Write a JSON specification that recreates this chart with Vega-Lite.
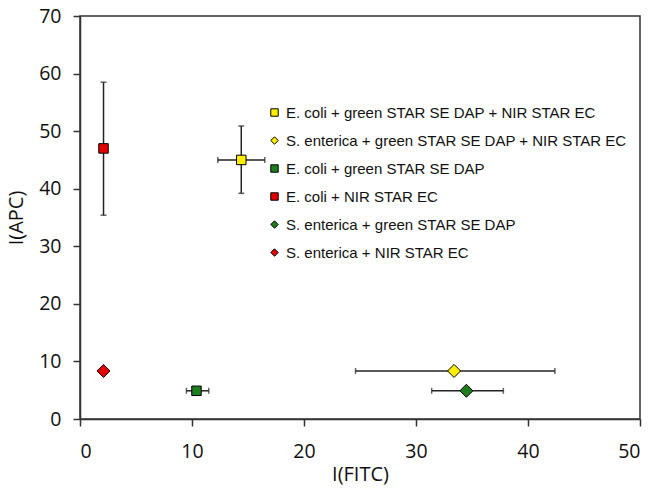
{
  "$schema": "https://vega.github.io/schema/vega-lite/v6.json",
  "width": 560,
  "height": 403,
  "autosize": "none",
  "padding": {"left": 80, "top": 16, "right": 23, "bottom": 70},
  "background": "white",
  "config": {
    "view": {"stroke": "#333", "strokeWidth": 1.5},
    "axis": {
      "grid": false,
      "domainColor": "#333",
      "domainWidth": 1.5,
      "tickColor": "#333",
      "tickWidth": 1.5,
      "tickSize": 7,
      "labelFont": "Open Sans",
      "labelFontSize": 19.5,
      "labelColor": "#111",
      "titleFont": "Open Sans",
      "titleFontSize": 20,
      "titleFontWeight": "normal",
      "titleColor": "#111"
    }
  },
  "data": {
    "values": [
      {"series": "E. coli + green STAR SE DAP + NIR STAR EC", "x": 14.4, "y": 45.0, "xlo": 12.3, "xhi": 16.5, "ylo": 39.2, "yhi": 50.9},
      {"series": "S. enterica + green STAR SE DAP + NIR STAR EC", "x": 33.4, "y": 8.35, "xlo": 24.6, "xhi": 42.4, "ylo": null, "yhi": null},
      {"series": "E. coli + green STAR SE DAP", "x": 10.4, "y": 4.9, "xlo": 9.5, "xhi": 11.5, "ylo": null, "yhi": null},
      {"series": "E. coli + NIR STAR EC", "x": 2.1, "y": 47.0, "xlo": null, "xhi": null, "ylo": 35.4, "yhi": 58.5},
      {"series": "S. enterica + green STAR SE DAP", "x": 34.5, "y": 4.9, "xlo": 31.4, "xhi": 37.8, "ylo": null, "yhi": null},
      {"series": "S. enterica + NIR STAR EC", "x": 2.1, "y": 8.35, "xlo": null, "xhi": null, "ylo": null, "yhi": null}
    ]
  },
  "encoding": {
    "x": {"type": "quantitative", "scale": {"domain": [0, 50]}, "title": "I(FITC)",
      "axis": {"values": [0, 10, 20, 30, 40, 50], "labelPadding": 16, "titlePadding": 4}},
    "y": {"type": "quantitative", "scale": {"domain": [0, 70]}, "title": "I(APC)",
      "axis": {"values": [0, 10, 20, 30, 40, 50, 60, 70], "labelPadding": 12, "titlePadding": 12}}
  },
  "layer": [
    {
      "transform": [{"filter": "datum.xlo != null"}],
      "mark": {"type": "rule", "color": "#222", "strokeWidth": 1.5},
      "encoding": {
        "x": {"field": "xlo", "type": "quantitative"},
        "x2": {"field": "xhi"},
        "y": {"field": "y", "type": "quantitative"}
      }
    },
    {
      "transform": [{"filter": "datum.ylo != null"}],
      "mark": {"type": "rule", "color": "#222", "strokeWidth": 1.5},
      "encoding": {
        "x": {"field": "x", "type": "quantitative"},
        "y": {"field": "ylo", "type": "quantitative"},
        "y2": {"field": "yhi"}
      }
    },
    {
      "transform": [{"filter": "datum.xlo != null"}],
      "mark": {"type": "tick", "orient": "vertical", "color": "#222", "thickness": 1.5, "size": 6},
      "encoding": {
        "x": {"field": "xlo", "type": "quantitative"},
        "y": {"field": "y", "type": "quantitative"}
      }
    },
    {
      "transform": [{"filter": "datum.xhi != null"}],
      "mark": {"type": "tick", "orient": "vertical", "color": "#222", "thickness": 1.5, "size": 6},
      "encoding": {
        "x": {"field": "xhi", "type": "quantitative"},
        "y": {"field": "y", "type": "quantitative"}
      }
    },
    {
      "transform": [{"filter": "datum.ylo != null"}],
      "mark": {"type": "tick", "orient": "horizontal", "color": "#222", "thickness": 1.5, "size": 6},
      "encoding": {
        "x": {"field": "x", "type": "quantitative"},
        "y": {"field": "ylo", "type": "quantitative"}
      }
    },
    {
      "transform": [{"filter": "datum.yhi != null"}],
      "mark": {"type": "tick", "orient": "horizontal", "color": "#222", "thickness": 1.5, "size": 6},
      "encoding": {
        "x": {"field": "x", "type": "quantitative"},
        "y": {"field": "yhi", "type": "quantitative"}
      }
    },
    {
      "transform": [{"filter": "indexof(datum.series, 'E. coli') == 0"}],
      "mark": {"type": "point", "filled": true, "stroke": "black", "strokeWidth": 1, "opacity": 1, "size": 90},
      "encoding": {
        "x": {"field": "x", "type": "quantitative"},
        "y": {"field": "y", "type": "quantitative"},
        "color": {
          "field": "series", "type": "nominal",
          "scale": {
            "domain": ["E. coli + green STAR SE DAP + NIR STAR EC", "S. enterica + green STAR SE DAP + NIR STAR EC", "E. coli + green STAR SE DAP", "E. coli + NIR STAR EC", "S. enterica + green STAR SE DAP", "S. enterica + NIR STAR EC"],
            "range": ["#ffee00", "#ffee00", "#1e7d1e", "#e30000", "#1e7d1e", "#e30000"]
          },
          "legend": {
            "orient": "none", "legendX": 187, "legendY": 89, "title": null,
            "labelFont": "Liberation Sans", "labelFontSize": 15, "labelColor": "#111",
            "labelLimit": 500, "labelOffset": 4, "rowPadding": 12, "padding": 0,
            "symbolSize": 55, "symbolStrokeColor": "black", "symbolStrokeWidth": 1
          }
        },
        "shape": {
          "field": "series", "type": "nominal",
          "scale": {
            "domain": ["E. coli + green STAR SE DAP + NIR STAR EC", "S. enterica + green STAR SE DAP + NIR STAR EC", "E. coli + green STAR SE DAP", "E. coli + NIR STAR EC", "S. enterica + green STAR SE DAP", "S. enterica + NIR STAR EC"],
            "range": ["square", "diamond", "square", "square", "diamond", "diamond"]
          }
        }
      }
    },
    {
      "transform": [{"filter": "indexof(datum.series, 'S. enterica') == 0"}],
      "mark": {"type": "point", "filled": true, "stroke": "black", "strokeWidth": 1, "opacity": 1, "size": 170},
      "encoding": {
        "x": {"field": "x", "type": "quantitative"},
        "y": {"field": "y", "type": "quantitative"},
        "color": {"field": "series", "type": "nominal"},
        "shape": {"field": "series", "type": "nominal"}
      }
    }
  ]
}
